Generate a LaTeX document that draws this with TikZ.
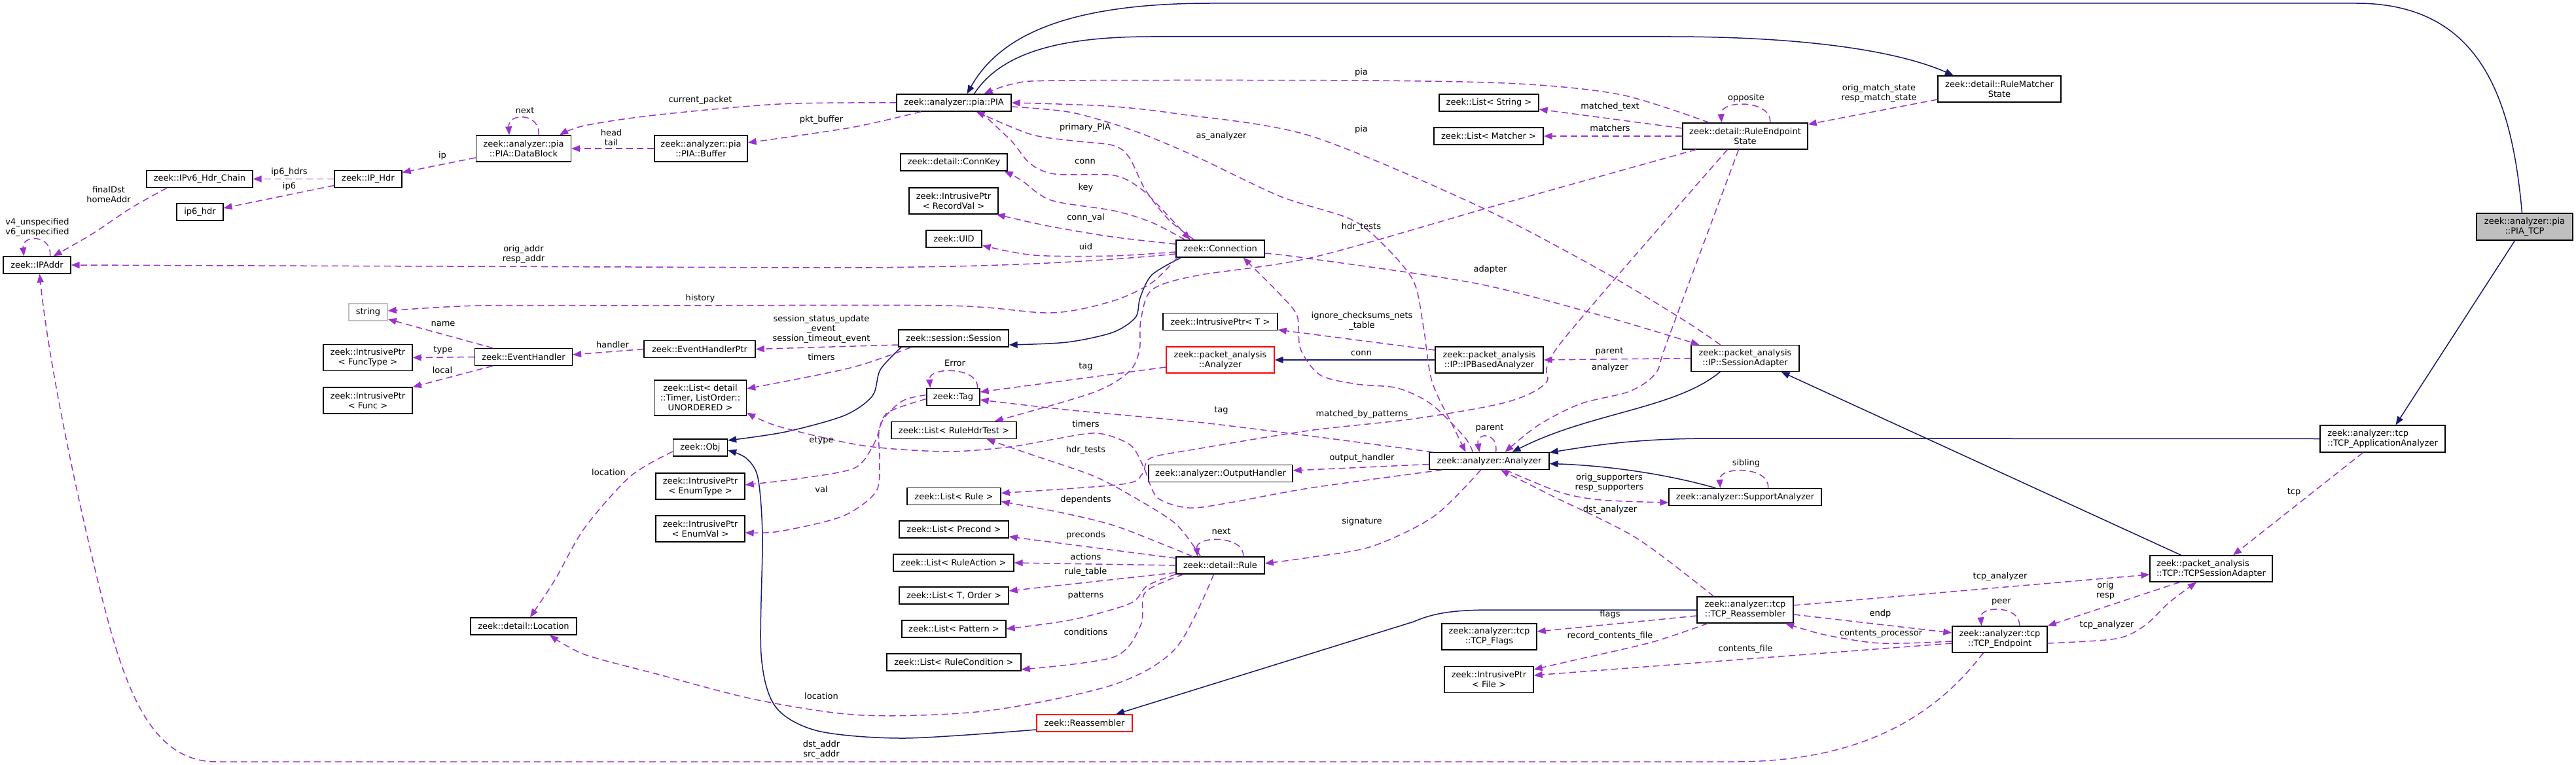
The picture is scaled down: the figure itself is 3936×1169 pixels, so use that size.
\documentclass[tikz,border=0pt]{standalone}
\usepackage{fontspec}
\setmainfont{DejaVu Sans}
\usetikzlibrary{arrows.meta}
\definecolor{depc}{RGB}{154,50,205}
\definecolor{inhc}{RGB}{25,25,112}
\definecolor{greyc}{RGB}{191,191,191}
\newcommand{\nf}{\fontsize{13}{15}\selectfont}
\begin{document}
\begin{tikzpicture}[x=1pt,y=-1pt,
  box/.style={draw=black, line width=1.3pt, fill=white, inner xsep=4pt, inner ysep=1pt, align=center, font=\nf},
  lbl/.style={font=\nf, align=center, inner sep=0pt},
  dep/.style={draw=depc, line width=1.5pt, dash pattern=on 10pt off 6pt, -{Triangle[length=13pt,width=10pt,fill=depc]}},
  inh/.style={draw=inhc, line width=1.5pt, -{Triangle[length=13pt,width=10pt,fill=inhc]}}]
\fill[white] (0,0) rectangle (3936,1169);
\useasboundingbox (0,0) rectangle (3936,1169);

% ---------------- nodes ----------------
\node[box,minimum width=103pt,minimum height=26pt] (IPAddr) at (56.5,405) {zeek::IPAddr};
\node[box,minimum width=162pt,minimum height=26pt] (Chain) at (305,273.5) {zeek::IPv6\_Hdr\_Chain};
\node[box,minimum width=103pt,minimum height=26pt] (IPHdr) at (562.5,273.5) {zeek::IP\_Hdr};
\node[box,minimum width=71pt,minimum height=26pt] (ip6hdr) at (305.5,324) {ip6\_hdr};
\node[box,minimum width=145pt,minimum height=40pt] (DataBlock) at (800,227) {zeek::analyzer::pia\\::PIA::DataBlock};
\node[box,minimum width=142pt,minimum height=40pt] (Buffer) at (1071,227) {zeek::analyzer::pia\\::PIA::Buffer};
\node[box,draw=greyc,minimum width=59pt,minimum height=26pt] (string) at (562.5,477) {string};
\node[box,minimum width=149pt,minimum height=26pt] (EventHandler) at (800,545.5) {zeek::EventHandler};
\node[box,minimum width=136pt,minimum height=40pt] (FuncType) at (562,546.5) {zeek::IntrusivePtr\\< FuncType >};
\node[box,minimum width=136pt,minimum height=40pt] (Func) at (562,612) {zeek::IntrusivePtr\\< Func >};
\node[box,minimum width=162pt,minimum height=26pt] (Location) at (800,957) {zeek::detail::Location};
\node[box,minimum width=175pt,minimum height=26pt] (PIA) at (1457.5,157) {zeek::analyzer::pia::PIA};
\node[box,minimum width=163pt,minimum height=26pt] (ConnKey) at (1457.5,248) {zeek::detail::ConnKey};
\node[box,minimum width=136pt,minimum height=40pt] (RecordVal) at (1457,307) {zeek::IntrusivePtr\\< RecordVal >};
\node[box,minimum width=85pt,minimum height=26pt] (UID) at (1457.5,365) {zeek::UID};
\node[box,minimum width=135pt,minimum height=26pt] (Conn) at (1864.5,380) {zeek::Connection};
\node[box,minimum width=168pt,minimum height=26pt] (Session) at (1457,517) {zeek::session::Session};
\node[box,minimum width=170pt,minimum height=26pt] (EHPtr) at (1069,533.5) {zeek::EventHandlerPtr};
\node[box,minimum width=175pt,minimum height=26pt] (PtrT) at (1864.5,491.5) {zeek::IntrusivePtr< T >};
\node[box,draw=red,minimum width=165pt,minimum height=40pt] (PAAnalyzer) at (1864.5,550) {zeek::packet\_analysis\\::Analyzer};
\node[box,minimum width=141pt,minimum height=54pt] (Timer) at (1070,608) {zeek::List< detail\\::Timer, ListOrder::\\UNORDERED >};
\node[box,minimum width=81pt,minimum height=26pt] (Tag) at (1456.5,606.5) {zeek::Tag};
\node[box,minimum width=191pt,minimum height=26pt] (HdrTest) at (1457.5,657.5) {zeek::List< RuleHdrTest >};
\node[box,minimum width=83pt,minimum height=26pt] (Obj) at (1070,684) {zeek::Obj};
\node[box,minimum width=136pt,minimum height=40pt] (EnumType) at (1070,743) {zeek::IntrusivePtr\\< EnumType >};
\node[box,minimum width=136pt,minimum height=40pt] (EnumVal) at (1070,808) {zeek::IntrusivePtr\\< EnumVal >};
\node[box,minimum width=143pt,minimum height=26pt] (ListRule) at (1457.5,758.5) {zeek::List< Rule >};
\node[box,minimum width=167pt,minimum height=26pt] (Precond) at (1457.5,809) {zeek::List< Precond >};
\node[box,minimum width=184pt,minimum height=26pt] (RuleAction) at (1457,860) {zeek::List< RuleAction >};
\node[box,minimum width=167pt,minimum height=26pt] (TOrder) at (1457.5,910) {zeek::List< T, Order >};
\node[box,minimum width=159pt,minimum height=26pt] (Pattern) at (1457.5,961) {zeek::List< Pattern >};
\node[box,minimum width=205pt,minimum height=26pt] (RuleCond) at (1457.5,1012) {zeek::List< RuleCondition >};
\node[box,draw=red,minimum width=146pt,minimum height=26pt] (Reassembler) at (1657,1105) {zeek::Reassembler};
\node[box,minimum width=135pt,minimum height=26pt] (Rule) at (1864.5,864) {zeek::detail::Rule};
\node[box,minimum width=220pt,minimum height=26pt] (OutputHandler) at (1865,723.5) {zeek::analyzer::OutputHandler};
\node[box,minimum width=152pt,minimum height=26pt] (ListString) at (2275,157) {zeek::List< String >};
\node[box,minimum width=167pt,minimum height=26pt] (ListMatcher) at (2274.5,208) {zeek::List< Matcher >};
\node[box,minimum width=191pt,minimum height=40pt] (RES) at (2666.5,208) {zeek::detail::RuleEndpoint\\State};
\node[box,minimum width=188pt,minimum height=40pt] (RMS) at (3055,136) {zeek::detail::RuleMatcher\\State};
\node[box,minimum width=165pt,minimum height=40pt] (IPBased) at (2275.5,550) {zeek::packet\_analysis\\::IP::IPBasedAnalyzer};
\node[box,minimum width=165pt,minimum height=40pt] (SessAdapter) at (2666.5,547.5) {zeek::packet\_analysis\\::IP::SessionAdapter};
\node[box,minimum width=183pt,minimum height=26pt] (Analyzer) at (2275.5,704.5) {zeek::analyzer::Analyzer};
\node[box,minimum width=233pt,minimum height=26pt] (Support) at (2666.5,759.5) {zeek::analyzer::SupportAnalyzer};
\node[box,minimum width=147pt,minimum height=40pt] (TCPReasm) at (2666.5,932) {zeek::analyzer::tcp\\::TCP\_Reassembler};
\node[box,minimum width=145pt,minimum height=40pt] (TCPFlags) at (2275.5,973) {zeek::analyzer::tcp\\::TCP\_Flags};
\node[box,minimum width=136pt,minimum height=40pt] (File) at (2275,1038.5) {zeek::IntrusivePtr\\< File >};
\node[box,minimum width=145pt,minimum height=40pt] (TCPEnd) at (3055.5,977) {zeek::analyzer::tcp\\::TCP\_Endpoint};
\node[box,align=left,minimum width=187pt,minimum height=40pt] (TCPSA) at (3378.5,869) {zeek::packet\_analysis\\::TCP::TCPSessionAdapter};
\node[box,align=left,minimum width=191pt,minimum height=41pt] (TCPApp) at (3640.5,670.5) {zeek::analyzer::tcp\\::TCP\_ApplicationAnalyzer};
\node[box,fill=greyc,minimum width=147pt,minimum height=41pt] (PIATCP) at (3857.5,346.5) {zeek::analyzer::pia\\::PIA\_TCP};

% ---------------- inheritance ----------------
\draw[inh] ([xshift=-4pt]PIATCP.north) .. controls (3838,150) and (3790,5) .. (3600,5) -- (1850,5) .. controls (1640,5) and (1530,50) .. ([xshift=20pt]PIA.north);
\draw[inh] ([xshift=31pt]PIA.north) .. controls (1530,80) and (1620,56) .. (1760,56) -- (2550,56) .. controls (2760,56) and (2900,78) .. ([xshift=-70pt]RMS.north);
\draw[inh] ([xshift=-38pt]SessAdapter.south) .. controls (2560,625) and (2430,630) .. ([xshift=35pt]Analyzer.north);
\draw[inh] (TCPApp.west) -- (2620,670) .. controls (2500,670) and (2440,680) .. ([yshift=13pt]Analyzer.east);
\draw[inh] ([xshift=-45pt]Support.north) .. controls (2560,728) and (2470,712) .. ([yshift=-4pt]Analyzer.east);
\draw[inh] ([xshift=-46pt]TCPSA.north) -- ([xshift=55pt]SessAdapter.south);
\draw[inh] ([xshift=-15pt]PIATCP.south) -- ([xshift=20pt]TCPApp.north);
\draw[inh] plot[smooth] coordinates {([xshift=-80pt]Session.south) (1345,565) (1333,605) (1290,635) (1200,660) ([yshift=11pt]Obj.east)};
\draw[inh] plot[smooth] coordinates {([xshift=-60pt]Conn.south) (1760,420) (1742,455) (1735,485) (1700,508) (1630,523) ([yshift=-10pt]Session.east)};
\draw[inh] plot[smooth] coordinates {([yshift=-10pt]Reassembler.west) (1383,1128) (1250,1117) (1185,1080) (1163,1000) (1165,820) (1158,730) (1140,700) ([yshift=-4pt]Obj.east)};
\draw[inh] (TCPReasm.west) -- (2280,932) .. controls (2220,932) and (2190,937) .. (2160,950) -- ([xshift=48pt]Reassembler.north);
\draw[inh] (IPBased.west) -- (PAAnalyzer.east);

% ---------------- usage (left part) ----------------
\draw[dep] ([xshift=20pt]IPAddr.north) .. controls (80,358) and (33,358) .. ([xshift=-20pt]IPAddr.north);
\node[lbl] (L1) at (57,348) {v4\_unspecified\\v6\_unspecified};
\draw[dep] plot[smooth] coordinates {([xshift=-50pt]Chain.south) (200,318) (140,358) ([xshift=25pt]IPAddr.north)};
\node[lbl] (L2) at (166,297) {finalDst\\homeAddr};
\draw[dep] (IPHdr.west) -- (Chain.east);
\node[lbl] (L3) at (442,263) {ip6\_hdrs};
\draw[dep] ([yshift=-10pt]IPHdr.west) -- ([yshift=6pt]ip6hdr.east);
\node[lbl] (L4) at (442,285) {ip6};
\draw[dep] ([yshift=-14pt]DataBlock.west) -- ([yshift=10pt]IPHdr.east);
\node[lbl] (L5) at (676,238) {ip};
\draw[dep] ([xshift=23pt]DataBlock.north) .. controls (826,172) and (776,172) .. ([xshift=-22pt]DataBlock.north);
\node[lbl] (L6) at (802,169) {next};
\draw[dep] (Buffer.west) -- (DataBlock.east);
\node[lbl] (L7) at (934,210) {head\\tail};
\draw[dep] plot[smooth] coordinates {(PIA.west) (1191,159) (1000,176) (893,192) ([xshift=55pt]DataBlock.north)};
\node[lbl] (L8) at (1070,153) {current\_packet};
\draw[dep] plot[smooth] coordinates {([xshift=-50pt]PIA.south) (1300,195) ([yshift=9pt]Buffer.east)};
\node[lbl] (L9) at (1255,183) {pkt\_buffer};

% PIA relations
\draw[dep] plot[smooth] coordinates {([xshift=-55pt]RES.north) (2478,145) (2320,128) (2080,123) (1625,123) (1549,128) ([xshift=46pt]PIA.north)};
\node[lbl] (L10) at (2080,111) {pia};
\draw[dep] plot[smooth] coordinates {([xshift=-38pt]SessAdapter.north) (2574,490) (2446,413) (2255,313) (2000,207) (1800,174) (1690,162) (PIA.east)};
\node[lbl] (L11) at (2080,198) {pia};
\draw[dep] plot[smooth] coordinates {([yshift=-6pt]PIA.east) (1638,172) (1733,200) (1829,240) (1956,300) (2064,335) (2115,375) (2160,430) (2175,500) (2188,583) (2222,655) ([xshift=-36pt]Analyzer.north)};
\node[lbl] (L12) at (1866,208) {as\_analyzer};

% RuleEndpointState
\draw[dep] ([yshift=12pt]RES.west) -- ([yshift=-10pt]ListString.east);
\node[lbl] (L13) at (2460,163) {matched\_text};
\draw[dep] (RES.west) -- (ListMatcher.east);
\node[lbl] (L14) at (2460,196) {matchers};
\draw[dep] ([xshift=38pt]RES.north) .. controls (2708,152) and (2628,152) .. ([xshift=-36pt]RES.north);
\node[lbl] (L15) at (2668,150) {opposite};
\draw[dep] ([yshift=-16pt]RMS.west) -- ([yshift=18pt]RES.east);
\node[lbl] (L16) at (2871,143) {orig\_match\_state\\resp\_match\_state};

% Connection
\draw[dep] ([yshift=-8pt]Conn.west) .. controls (1620,405) and (1450,409) .. (1250,409) -- (IPAddr.east);
\node[lbl] (L17) at (800,389) {orig\_addr\\resp\_addr};
\draw[dep] plot[smooth] coordinates {([xshift=-66pt]Conn.south) (1760,432) (1700,460) (1606,478) (1446,467) (1000,467) (733,467) ([yshift=2pt]string.east)};
\node[lbl] (L18) at (1070,456) {history};
\draw[dep] plot[smooth] coordinates {([yshift=-5pt]Conn.west) (1700,391) (1580,390) ([yshift=-10pt]UID.east)};
\node[lbl] (L19) at (1659,377) {uid};
\draw[dep] plot[smooth] coordinates {([yshift=7pt]Conn.west) (1700,362) (1600,345) ([xshift=-3pt]RecordVal.south east)};
\node[lbl] (L20) at (1659,333) {conn\_val};
\draw[dep] plot[smooth] coordinates {([xshift=-54pt]Conn.north) (1760,340) (1702,322) (1606,306) (1560,275) ([xshift=-5pt]ConnKey.south east)};
\node[lbl] (L21) at (1659,287) {key};
\draw[dep] plot[smooth] coordinates {([xshift=-40pt]Conn.north) (1785,335) (1750,290) (1725,240) (1700,222) (1638,215) (1574,205) ([xshift=34pt]PIA.south)};
\node[lbl] (L22) at (1658,195) {primary\_PIA};
\draw[dep] plot[smooth] coordinates {([xshift=40pt]PIA.south) (1545,215) (1574,250) (1612,266) (1702,268) (1745,290) (1785,330) ([xshift=-46pt]Conn.north)};
\node[lbl] (L23) at (1658,247) {conn};
\draw[dep] plot[smooth] coordinates {([yshift=-7pt]Conn.east) (2000,395) (2255,433) (2446,482) ([xshift=-70pt]SessAdapter.north)};
\node[lbl] (L24) at (2277,412) {adapter};
\draw[dep] plot[smooth] coordinates {([xshift=-25pt]Analyzer.north) (2237,667) (2186,617) (2135,593) (2073,587) (2017,573) (1987,533) (1982,483) (1956,450) ([xshift=35pt]Conn.south)};
\node[lbl] (L25) at (2080,540) {conn};

% RES -> lower
\draw[dep] plot[smooth] coordinates {([xshift=-75pt]RES.south) (2300,310) (2007,393) (1829,421) (1760,443) (1743,490) (1741,535) (1725,568) (1670,600) ([xshift=62pt]HdrTest.north)};
\node[lbl] (L26) at (2080,347) {hdr\_tests};
\draw[dep] plot[smooth] coordinates {([xshift=-27pt]RES.south) (2384,525) (2362,585) (2300,615) (2160,640) (2000,658) (1829,686) (1758,700) (1745,725) (1714,740) ([yshift=5pt]ListRule.east)};
\node[lbl] (L27) at (2081,633) {matched\_by\_patterns};
\draw[dep] plot[smooth] coordinates {([xshift=-10pt]RES.south) (2548,520) (2530,570) (2490,598) (2415,617) (2350,650) ([xshift=24pt]Analyzer.north)};
\node[lbl] (L28) at (2460,562) {analyzer};

% Analyzer
\draw[dep] ([xshift=10pt]Analyzer.north) .. controls (2290,660) and (2255,660) .. ([xshift=-15pt]Analyzer.north);
\node[lbl] (L29) at (2276,654) {parent};
\draw[dep] ([yshift=-5pt]Analyzer.west) -- ([yshift=4.5pt]OutputHandler.east);
\node[lbl] (L30) at (2081,700) {output\_handler};
\draw[dep] plot[smooth] coordinates {([xshift=6pt]Analyzer.north west) (2000,666) (1829,645) (1638,627) ([yshift=-4.5pt]Tag.east)};
\node[lbl] (L31) at (1866,627) {tag};
\draw[dep] plot[smooth] coordinates {([xshift=20pt]Analyzer.south west) (2000,746) (1880,768) (1816,776) (1768,760) (1748,715) (1727,680) (1676,662) (1606,672) (1542,683) (1446,690) (1319,681) (1191,652) ([yshift=5pt]Timer.south east)};
\node[lbl] (L32) at (1659,648) {timers};
\draw[dep] plot[smooth] coordinates {([xshift=-13pt]Analyzer.south) (2191,789) (2096,835) (2000,852) ([yshift=3pt]Rule.east)};
\node[lbl] (L33) at (2081,797) {signature};
\draw[dep] plot[smooth] coordinates {([xshift=25pt]Analyzer.south) (2383,752) (2446,764) ([yshift=-8.5pt]Support.west)};
\node[lbl] (L34) at (2459,738) {orig\_supporters\\resp\_supporters};
\draw[dep] plot[smooth] coordinates {([xshift=-48pt]TCPReasm.north) (2500,822) (2370,757) ([xshift=17.5pt]Analyzer.south)};
\node[lbl] (L35) at (2460,779) {dst\_analyzer};
\draw[dep] ([xshift=35pt]Support.north) .. controls (2705,712) and (2626,712) .. ([xshift=-38pt]Support.north);
\node[lbl] (L36) at (2668,708) {sibling};
\draw[dep] (SessAdapter.west) -- (IPBased.east);
\node[lbl] (L37) at (2459,537) {parent};
\draw[dep] ([yshift=15pt]IPBased.west) -- ([yshift=-12.5pt]PtrT.east);
\node[lbl] (L38) at (2081,491) {ignore\_checksums\_nets\\\_table};
\draw[dep] ([yshift=-11pt]PAAnalyzer.west) -- ([yshift=7.5pt]Tag.east);
\node[lbl] (L39) at (1659,560) {tag};

% Tag
\draw[dep] ([xshift=37pt]Tag.north) .. controls (1496,560) and (1418,560) .. ([xshift=-35pt]Tag.north);
\node[lbl] (L40) at (1459,555) {Error};
\draw[dep] plot[smooth] coordinates {([yshift=3pt]Tag.west) (1380,612) (1350,640) (1336,677) (1306,715) (1223,731) ([yshift=2pt]EnumType.east)};
\node[lbl] (L41) at (1255,673) {etype};
\draw[dep] plot[smooth] coordinates {([yshift=-3pt]Tag.west) (1357,630) (1343,660) (1344,706) (1338,752) (1287,789) (1191,812) ([yshift=-6pt]EnumVal.east)};
\node[lbl] (L42) at (1255,748) {val};

% Session / events
\draw[dep] ([yshift=-10pt]Session.west) -- (EHPtr.east);
\node[lbl] (L43) at (1255,503) {session\_status\_update\\\_event\\session\_timeout\_event};
\draw[dep] plot[smooth] coordinates {([xshift=-65pt]Session.south) (1300,562) ([yshift=14pt]Timer.east)};
\node[lbl] (L44) at (1255,546) {timers};
\draw[dep] (EHPtr.west) -- ([yshift=3.5pt]EventHandler.east);
\node[lbl] (L45) at (936,527) {handler};
\draw[dep] ([xshift=-47pt]EventHandler.north) -- ([yshift=3pt]string.south east);
\node[lbl] (L46) at (677,495) {name};
\draw[dep] (EventHandler.west) -- (FuncType.east);
\node[lbl] (L47) at (677,535) {type};
\draw[dep] ([xshift=-47pt]EventHandler.south) -- (Func.north east);
\node[lbl] (L48) at (676,566) {local};

% Location
\draw[dep] plot[smooth] coordinates {([yshift=-6pt]Obj.west) (963,728) (893,807) (848,886) ([xshift=10pt]Location.north)};
\node[lbl] (L49) at (930,722) {location};
\draw[dep] plot[smooth] coordinates {([xshift=-10pt]Rule.south) (1797,990) (1702,1046) (1510,1086) (1319,1093) (1159,1070) (1000,1029) (893,1000) ([xshift=40pt]Location.south)};
\node[lbl] (L50) at (1255,1064) {location};

% Rule
\draw[dep] ([xshift=35pt]Rule.north) .. controls (1903,818) and (1827,818) .. ([xshift=-35pt]Rule.north);
\node[lbl] (L51) at (1866,812) {next};
\draw[dep] plot[smooth] coordinates {([xshift=-42pt]Rule.north) (1785,835) (1702,803) (1620,783) ([yshift=-8pt]ListRule.east)};
\node[lbl] (L52) at (1659,764) {dependents};
\draw[dep] plot[smooth] coordinates {([xshift=-30pt]Rule.north) (1797,801) (1733,760) (1670,727) (1574,694) ([xshift=50pt]HdrTest.south)};
\node[lbl] (L53) at (1659,688) {hdr\_tests};
\draw[dep] ([yshift=11pt]Rule.west) -- ([yshift=-11pt]Precond.east);
\node[lbl] (L54) at (1659,818) {preconds};
\draw[dep] (Rule.west) -- (RuleAction.east);
\node[lbl] (L55) at (1659,851) {actions};
\draw[dep] ([yshift=-11pt]Rule.west) -- ([yshift=7pt]TOrder.east);
\node[lbl] (L56) at (1659,874) {rule\_table};
\draw[dep] plot[smooth] coordinates {(Rule.south west) (1753,895) (1727,922) (1638,947) (Pattern.east)};
\node[lbl] (L57) at (1659,910) {patterns};
\draw[dep] plot[smooth] coordinates {([xshift=12pt]Rule.south west) (1750,905) (1743,955) (1702,1004) ([yshift=-11pt]RuleCond.east)};
\node[lbl] (L58) at (1659,966) {conditions};

% TCP
\draw[dep] ([yshift=-9pt]TCPReasm.west) -- ([yshift=8pt]TCPFlags.east);
\node[lbl] (L59) at (2460,939) {flags};
\draw[dep] plot[smooth] coordinates {([xshift=-57pt]TCPReasm.south) (2560,970) (2510,985) (2400,1010) ([yshift=15.5pt]File.east)};
\node[lbl] (L60) at (2460,972) {record\_contents\_file};
\draw[dep] ([yshift=-6pt]TCPEnd.west) -- ([yshift=6.5pt]File.east);
\node[lbl] (L61) at (2667,992) {contents\_file};
\draw[dep] ([yshift=-7pt]TCPReasm.east) -- ([yshift=10pt]TCPEnd.west);
\node[lbl] (L62) at (2873,938) {endp};
\draw[dep] plot[smooth] coordinates {([yshift=-3pt]TCPEnd.west) (2874,983) (2788,970) ([xshift=61.5pt]TCPReasm.south)};
\node[lbl] (L63) at (2874,968) {contents\_processor};
\draw[dep] ([yshift=7pt]TCPReasm.east) -- ([yshift=-9pt]TCPSA.west);
\node[lbl] (L64) at (3056,881) {tcp\_analyzer};
\draw[dep] ([xshift=-48pt]TCPSA.south) -- (TCPEnd.north east);
\node[lbl] (L65) at (3217,902) {orig\\resp};
\draw[dep] plot[smooth] coordinates {([yshift=-6pt]TCPEnd.east) (3233,976) (3277,956) (3315,920) ([xshift=-22.5pt]TCPSA.south)};
\node[lbl] (L66) at (3219,955) {tcp\_analyzer};
\draw[dep] ([xshift=30pt]TCPEnd.north) .. controls (3088,925) and (3025,925) .. ([xshift=-28pt]TCPEnd.north);
\node[lbl] (L67) at (3058,920) {peer};
\draw[dep] ([xshift=-30pt]TCPApp.south) -- ([xshift=33.5pt]TCPSA.north);
\node[lbl] (L68) at (3505,752) {tcp};
\draw[dep] ([xshift=-25pt]TCPEnd.south) .. controls (2960,1090) and (2850,1164) .. (2650,1164) -- (330,1164) .. controls (230,1164) and (190,1050) .. (155,910) .. controls (120,770) and (75,560) .. ([xshift=4pt]IPAddr.south);
\node[lbl] (L69) at (1255,1146) {dst\_addr\\src\_addr};
\end{tikzpicture}
\end{document}
